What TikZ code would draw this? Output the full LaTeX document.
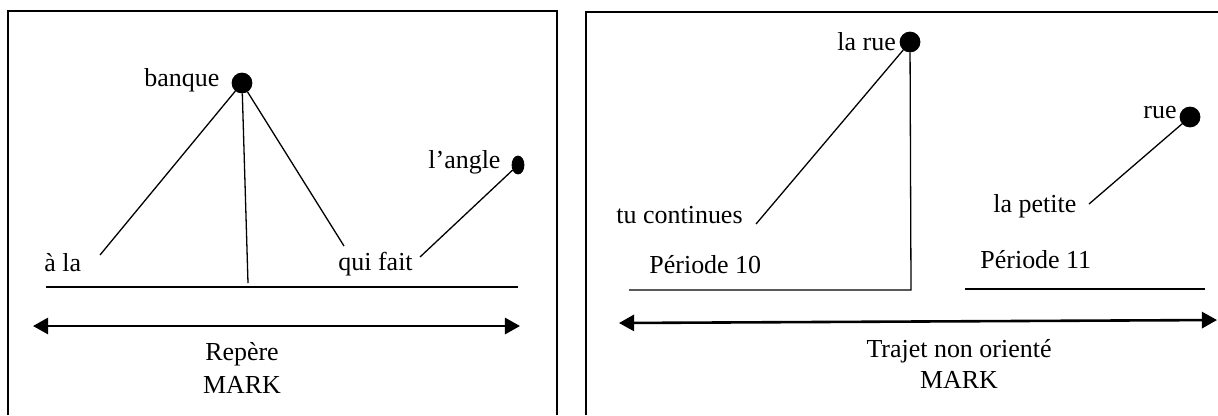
\documentclass[tikz,border=0pt,12pt]{standalone}
\usepackage{fontspec}
\setmainfont{Liberation Serif}
\usetikzlibrary{arrows.meta,shapes.geometric}

\begin{document}
\begin{tikzpicture}[x=0.1625mm, y=-0.1625mm,
  spot/.style={draw, circle, fill, inner sep=0pt, minimum size=9.2pt},
  word/.style={anchor=base west, inner sep=0pt},
  frame/.style={line width=0.9pt},
  link/.style={line width=0.6pt},
  track/.style={line width=1.2pt,
    {Triangle[length=7pt,width=7.5pt]}-{Triangle[length=7pt,width=7.5pt]}}]
\useasboundingbox (0,0) rectangle (1218,415);
% left frame: Repere
\draw[frame] (8,415) |- (557,11) -- (557,415);
\node[spot] (bank) at (242,83) {};
\node[word] (banque) at (144,86) {banque};
\node[spot, ellipse, minimum width=5.5pt, minimum height=8.3pt] (angle) at (518,165) {};
\node[word] (langle) at (428,168) {l’angle};
\node[word] (ala) at (44,271) {à la};
\node[word] (quifait) at (338,270) {qui fait};
\coordinate (ala-end) at (100,255);
\coordinate (bank-foot) at (248,283);
\coordinate (qf-end) at (344,246);
\coordinate (qf-tail) at (420,257);
\draw[link] (bank) -- (ala-end);
\draw[link] (bank) -- (bank-foot);
\draw[link] (bank) -- (qf-end);
\draw[link] (angle) -- (qf-tail);
\coordinate (base-l) at (46,287);
\coordinate (base-r) at (518,287);
\draw[link] (base-l) -- (base-r);
\coordinate (ax-l) at (33,326);
\coordinate (ax-r) at (520,326);
\draw[track] (ax-l) -- (ax-r);
\node[anchor=base] (repere) at (242,360) {Repère};
\node[anchor=base] (mark1) at (242,393) {MARK};
% right frame: Trajet
\draw[frame] (586,415) |- (1218,12);
\node[spot] (larue) at (910,42) {};
\node[word] (larue-txt) at (837,50) {la rue};
\node[word] (tucont) at (616,223) {tu continues};
\coordinate (tc-end) at (756,224);
\draw[link] (larue) -- (tc-end);
\coordinate (corner) at (911,290);
\coordinate (p10-l) at (629,290);
\draw[link] (larue) -- (corner) -- (p10-l);
\node[word] (per10) at (649,273) {Période 10};
\node[spot] (rue) at (1190,117) {};
\node[word] (rue-txt) at (1143,118) {rue};
\node[word] (lapetite) at (993,212) {la petite};
\coordinate (lp-end) at (1089,204);
\draw[link] (rue) -- (lp-end);
\node[word] (per11) at (980,268) {Période 11};
\coordinate (p11-l) at (965,289);
\coordinate (p11-r) at (1205,289);
\draw[link] (p11-l) -- (p11-r);
\coordinate (tr-l) at (619,323);
\coordinate (tr-r) at (1217,320);
\draw[track] (tr-l) -- (tr-r);
\node[anchor=base] (trajet) at (959,357) {Trajet non orienté};
\node[anchor=base] (mark2) at (959,388) {MARK};
\end{tikzpicture}
\end{document}
